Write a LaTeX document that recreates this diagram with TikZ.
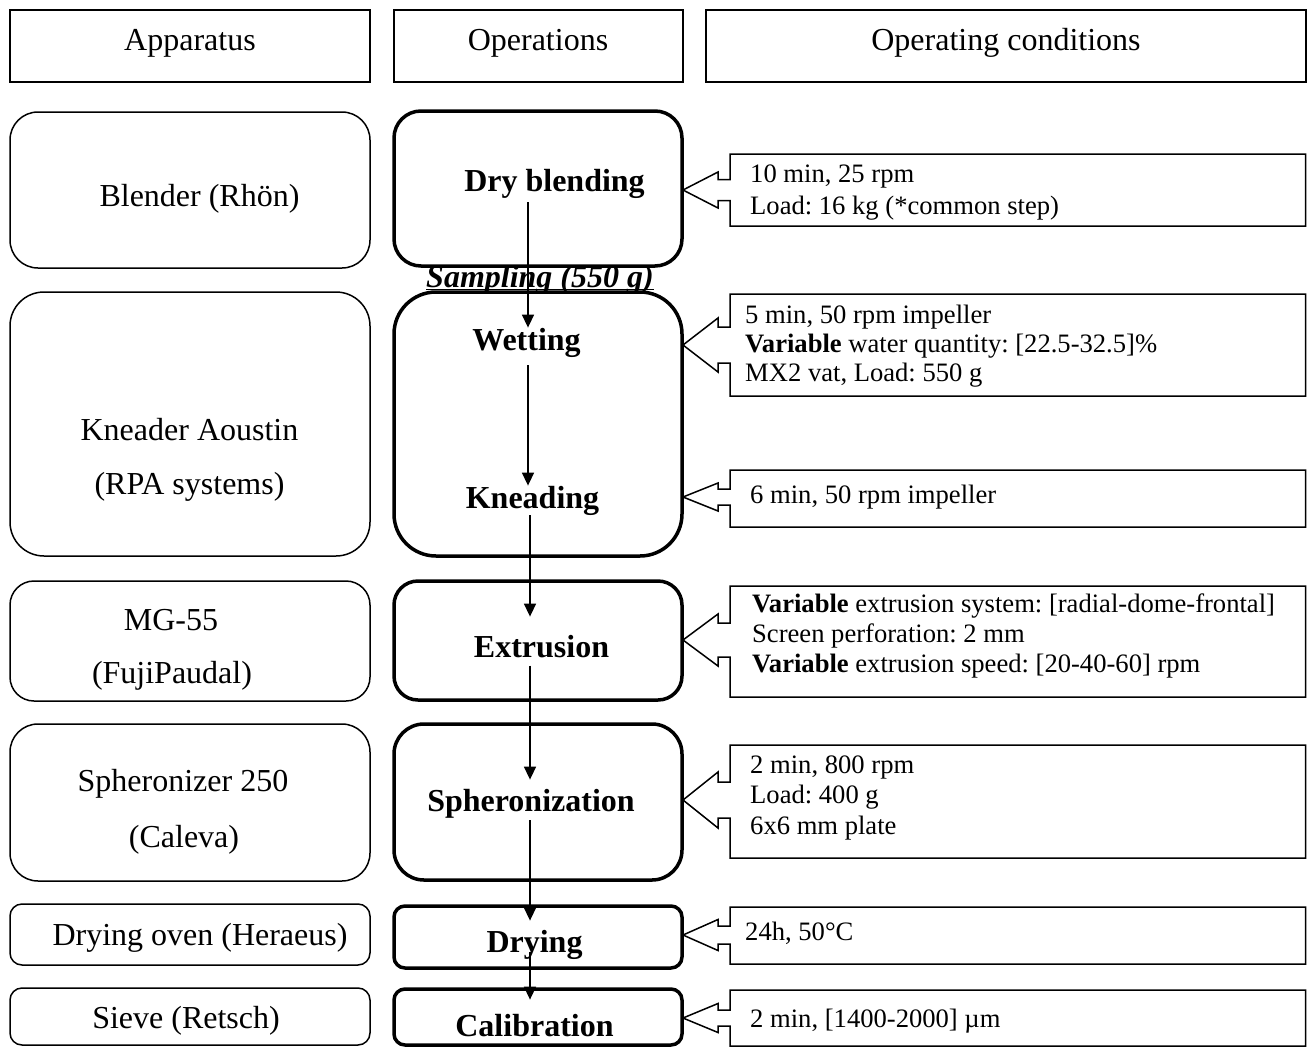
\documentclass[tikz,border=0pt]{standalone}
\usepackage{fontspec}
\setmainfont{Liberation Serif}
\frenchspacing
\usetikzlibrary{arrows.meta}
\tikzset{
  hdr/.style={draw, line width=2pt, inner sep=0pt},
  appbox/.style={draw, line width=1.5pt, inner sep=0pt, minimum width=360pt},
  opbox/.style={draw, fill=white, line width=3.5pt, inner sep=0pt, minimum width=288pt},
  ttl/.style={font=\fontsize{32}{38}\selectfont, inner sep=0pt, anchor=base},
  optxt/.style={font=\fontsize{32}{38}\selectfont\bfseries, inner sep=0pt, anchor=base},
  cnd/.style={font=\fontsize{26.6}{30}\selectfont, inner sep=0pt, anchor=base west},
  callline/.style={draw, line width=1.5pt, line join=miter},
  arr/.style={line width=1.5pt, -{Triangle[length=13pt,width=12pt]}},
}
\begin{document}
\begin{tikzpicture}[x=1pt,y=-1pt]
\useasboundingbox (0,0) rectangle (1307,1047);
% headers
\node[hdr, minimum width=360pt, minimum height=72pt] (hA) at (190,46) {};
\node[hdr, minimum width=289pt, minimum height=72pt] (hO) at (538.5,46) {};
\node[hdr, minimum width=599.5pt, minimum height=72pt] (hC) at (1005.75,46) {};
\node[ttl] (hAt) at (190,50) {Apparatus};
\node[ttl] (hOt) at (538,50) {Operations};
\node[ttl] (hCt) at (1006,50) {Operating conditions};
% apparatus boxes
\node[appbox, minimum height=156pt, rounded corners=28pt] (blender) at (190,190) {};
\node[appbox, minimum height=264pt, rounded corners=34pt] (kneader) at (190,424) {};
\node[appbox, minimum height=120pt, rounded corners=24pt] (mg) at (190,641) {};
\node[appbox, minimum height=157pt, rounded corners=28pt] (sphr) at (190,802.5) {};
\node[appbox, minimum height=61pt, rounded corners=12pt] (oven) at (190,934.5) {};
\node[appbox, minimum height=57pt, rounded corners=12pt] (sieve) at (190,1016.5) {};
\node[ttl] (blendert) at (199.5,206) {Blender (Rhön)};
\node[ttl] (kneadert1) at (189.5,440) {Kneader Aoustin};
\node[ttl] (kneadert2) at (189.5,494) {(RPA systems)};
\node[ttl] (mgt1) at (171,630) {MG-55};
\node[ttl] (mgt2) at (172,683) {(FujiPaudal)};
\node[ttl] (sphrt1) at (183,791) {Spheronizer 250};
\node[ttl] (sphrt2) at (184,847) {(Caleva)};
\node[ttl] (ovent) at (200,945) {Drying oven (Heraeus)};
\node[ttl] (sievet) at (186,1028) {Sieve (Retsch)};
% sampling label
\node[optxt, font=\fontsize{32}{38}\selectfont\bfseries\itshape] (samp) at (540,287) {Sampling (550 g)};
\draw[line width=1.5pt] ([yshift=-2.5pt]samp.base west) -- ([yshift=-2.5pt]samp.base east);
% operation boxes
\node[opbox, minimum height=155pt, rounded corners=27pt] (db) at (538,188.5) {};
\node[opbox, minimum height=264pt, rounded corners=42pt] (wk) at (538,424) {};
\node[opbox, minimum height=119pt, rounded corners=24pt] (ex) at (538,640.5) {};
\node[opbox, minimum height=156pt, rounded corners=30pt] (sp) at (538,802) {};
\node[opbox, minimum height=62pt, rounded corners=11pt] (dr) at (538,937) {};
\node[opbox, minimum height=56pt, rounded corners=11pt] (ca) at (538,1017) {};
\node[optxt] (dbt) at (554.5,191) {Dry blending};
\node[optxt] (wett) at (526.5,350) {Wetting};
\node[optxt] (knt) at (532.5,508) {Kneading};
\node[optxt] (ext) at (541.5,657) {Extrusion};
\node[optxt] (spt) at (531,811) {Spheronization};
\node[optxt] (drt) at (534.5,952) {Drying};
\node[optxt] (cat) at (534.5,1036) {Calibration};
% arrows
\coordinate (ax1) at (528,0);
\coordinate (ax2) at (530,0);
\draw[arr, shorten <=4pt] (dbt.south -| ax1) -- (wett.north -| ax1);
\draw[arr, shorten <=8pt] (wett.south -| ax1) -- (knt.north -| ax1);
\draw[arr] (knt.south -| ax2) -- ([yshift=18pt]ext.north -| ax2);
\draw[arr, shorten <=8pt] (ext.south -| ax2) -- ([yshift=9pt]spt.north -| ax2);
\draw[arr, shorten <=2pt] (spt.south -| ax2) -- ([yshift=9pt]drt.north -| ax2);
\draw[arr] (drt.base -| ax2) -- ([yshift=14pt]cat.north -| ax2);
% callouts
\draw[callline] (730,154) -- (1305.5,154) -- (1305.5,226) -- (730,226) -- (730,200.5) -- (718,200.5) -- (718,208) -- (683,190) -- (718,172) -- (718,179.5) -- (730,179.5) -- cycle;
\draw[callline] (730,294) -- (1305.5,294) -- (1305.5,396) -- (730,396) -- (730,363) -- (718,363) -- (718,372) -- (683,345) -- (718,318) -- (718,327) -- (730,327) -- cycle;
\draw[callline] (730,470) -- (1305.5,470) -- (1305.5,527) -- (730,527) -- (730,505) -- (718,505) -- (718,511) -- (683,497) -- (718,483) -- (718,489) -- (730,489) -- cycle;
\draw[callline] (730,586) -- (1305.5,586) -- (1305.5,697) -- (730,697) -- (730,657) -- (718,657) -- (718,666) -- (683,640) -- (718,614) -- (718,623) -- (730,623) -- cycle;
\draw[callline] (730,745) -- (1305.5,745) -- (1305.5,858) -- (730,858) -- (730,818) -- (718,818) -- (718,828) -- (683,800) -- (718,772) -- (718,782) -- (730,782) -- cycle;
\draw[callline] (730,907) -- (1305.5,907) -- (1305.5,964) -- (730,964) -- (730,944) -- (718,944) -- (718,950.5) -- (683,935) -- (718,919.5) -- (718,926) -- (730,926) -- cycle;
\draw[callline] (730,990) -- (1305.5,990) -- (1305.5,1046) -- (730,1046) -- (730,1026) -- (718,1026) -- (718,1032.5) -- (683,1018) -- (718,1003.5) -- (718,1010) -- (730,1010) -- cycle;
% callout texts
\node[cnd] (c1a) at (750,182) {10 min, 25 rpm};
\node[cnd] (c1b) at (750,214) {Load: 16 kg (*common step)};
\node[cnd] (c2a) at (745,323.5) {5 min, 50 rpm impeller};
\node[cnd] (c2b) at (745,352) {\textbf{Variable} water quantity: [22.5-32.5]\%};
\node[cnd] (c2c) at (745,381.5) {MX2 vat, Load: 550 g};
\node[cnd] (c3a) at (750,503) {6 min, 50 rpm impeller};
\node[cnd] (c4a) at (752,612) {\textbf{Variable} extrusion system: [radial-dome-frontal]};
\node[cnd] (c4b) at (752,642) {Screen perforation: 2 mm};
\node[cnd] (c4c) at (752,672) {\textbf{Variable} extrusion speed: [20-40-60] rpm};
\node[cnd] (c5a) at (750,773) {2 min, 800 rpm};
\node[cnd] (c5b) at (750,803) {Load: 400 g};
\node[cnd] (c5c) at (750,834) {6x6 mm plate};
\node[cnd] (c6a) at (745,940) {24h, 50°C};
\node[cnd] (c7a) at (750,1027) {2 min, [1400-2000] µm};
\end{tikzpicture}
\end{document}
